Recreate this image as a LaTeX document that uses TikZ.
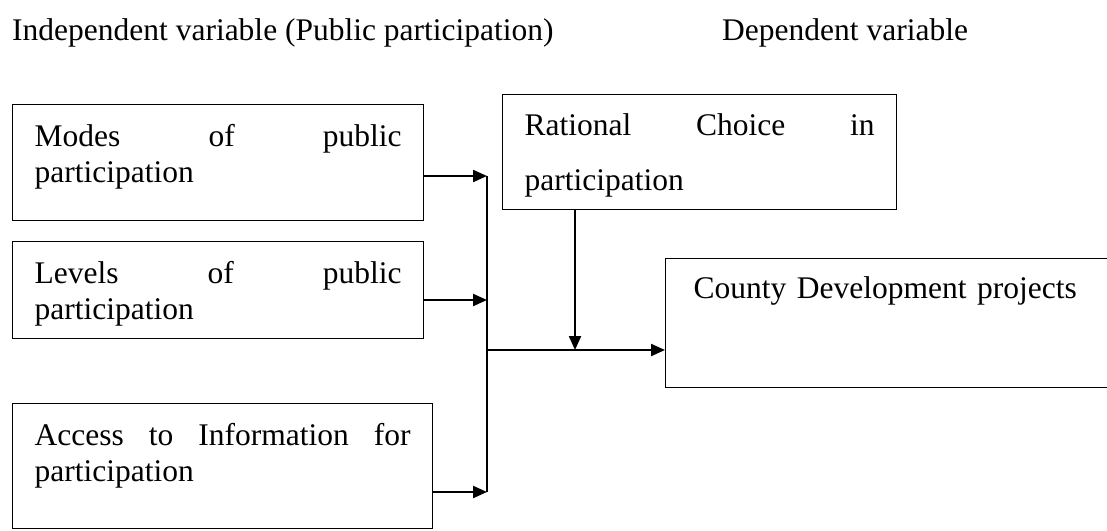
\documentclass[tikz,border=0pt]{standalone}
\usepackage{fontspec}
\setmainfont{Liberation Serif}
\usetikzlibrary{arrows.meta}

\begin{document}
\begin{tikzpicture}[x=1pt,y=-1pt,
  every node/.style={font=\fontsize{31.5}{36}\selectfont},
  varbox/.style={draw,line width=1.4pt,anchor=north west,inner xsep=22pt,inner ysep=0pt,align=left,text height=42pt},
  link/.style={line width=2.2pt},
  arr/.style={line width=2.2pt,-{Triangle[length=14pt,width=12pt]}}]
  \useasboundingbox (0,0) rectangle (1107,530);
  \clip (0,0) rectangle (1107,530);
  % headings
  \node[anchor=base west,inner sep=0pt] (indep) at (12,40) {Independent variable (Public participation)};
  \node[anchor=base west,inner sep=0pt] (dep) at (722,40) {Dependent variable};
  % independent variables
  \node[varbox,text width=367pt,text depth=74pt] (modes) at (12,104) {Modes\hfill of\hfill public\\participation};
  \node[varbox,text width=367pt,text depth=55pt] (levels) at (12,241) {Levels\hfill of\hfill public\\participation};
  \node[varbox,text width=376pt,text depth=83pt] (access) at (12,403) {Access\hfill to\hfill Information\hfill for\\participation};
  % intervening variable
  \node[varbox,text width=350pt,text depth=74pt,text height=41pt,font=\fontsize{31.5}{55}\selectfont] (rational) at (502,94) {Rational\hfill Choice\hfill in\\participation};
  % dependent variable (box runs past the page edge)
  \node[varbox,inner xsep=28pt,text width=460pt,text depth=89pt,text height=40pt] (county) at (665,258) {County Development projects};
  % joints
  \coordinate (b1) at (487,176);
  \coordinate (b2) at (487,300);
  \coordinate (b3) at (487,492);
  \coordinate (j) at (487,350);
  \coordinate (m) at (575,350);
  \draw[link] (b1) -- (b3);
  \draw[arr] (b1 -| modes.east) -- (b1);
  \draw[arr] (b2 -| levels.east) -- (b2);
  \draw[arr] (b3 -| access.east) -- (b3);
  \draw[arr] (j) -- (j -| county.west);
  \draw[arr] (m |- rational.south) -- (m);
\end{tikzpicture}
\end{document}
